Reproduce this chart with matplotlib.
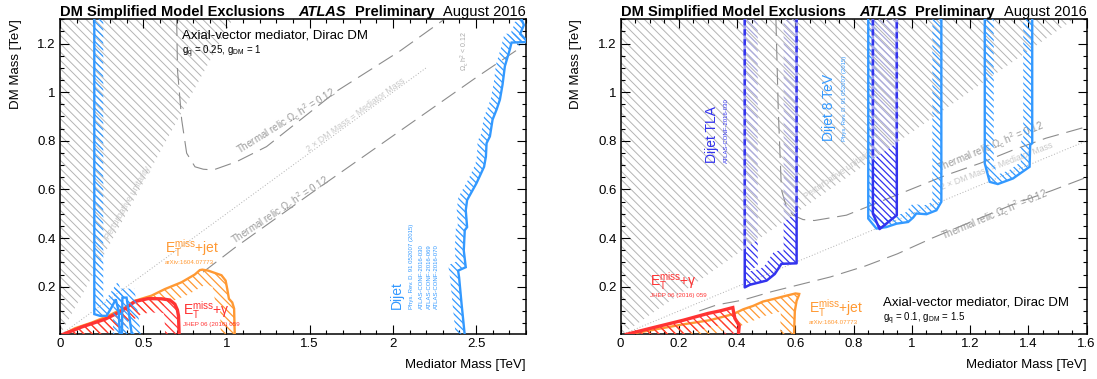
import numpy as np
import matplotlib.pyplot as plt
from matplotlib.patches import Polygon
from matplotlib.ticker import MultipleLocator, FuncFormatter

plt.rcParams['font.family'] = ['Liberation Sans', 'DejaVu Sans']
plt.rcParams['mathtext.fontset'] = 'custom'
plt.rcParams['mathtext.rm'] = 'Liberation Sans'
plt.rcParams['mathtext.it'] = 'Liberation Sans:italic'
plt.rcParams['mathtext.bf'] = 'Liberation Sans:bold'
plt.rcParams['hatch.linewidth'] = 0.8

# colours
C_DIJET = '#3399ff'
C_TLA = '#3333ee'
C_TLA_LIGHT = '#aaaadd'
C_JET = '#ff9933'
C_GAM = '#ff3333'
C_RELIC = '#8c8c8c'

# hatch patterns
H_GREY = '\\' * 4
H_BLUE = '\\' * 5
H_WARM = '\\' * 4

# ---- left: g_q = 0.25, g_DM = 1 ----
L_xmax = 2.8
L_unit_x = [0.0, 1.037]
L_unit_y = [0.0, 1.30]

L_relic_up_x = [0.701, 0.706, 0.731, 0.761, 0.811, 0.861, 0.921, 1.061, 1.241, 1.662, 2.042, 2.310]
L_relic_up_y = [1.300, 1.090, 0.887, 0.749, 0.693, 0.683, 0.680, 0.714, 0.776, 1.004, 1.169, 1.300]
L_relic_lo_x = [0.86, 1.05, 1.50, 2.00, 2.50, 2.76]
L_relic_lo_y = [0.26, 0.36, 0.58, 0.82, 1.06, 1.18]
L_diag_x = [0.0, 2.2]
L_diag_y = [0.0, 1.1]

L_dijet_a_x = [0.206, 0.206, 0.240, 0.280, 0.310, 0.335, 0.352, 0.360]
L_dijet_a_y = [1.300, 0.087, 0.080, 0.080, 0.115, 0.148, 0.100, 0.000]
L_dijet_b_x = [0.372, 0.375, 0.400, 0.412, 0.432]
L_dijet_b_y = [0.000, 0.155, 0.155, 0.100, 0.000]
L_dijet_c_x = [2.432, 2.413, 2.398, 2.392, 2.438, 2.426, 2.432, 2.446, 2.438, 2.446, 2.502,
               2.548, 2.559, 2.563, 2.583, 2.599, 2.623, 2.643, 2.659, 2.673, 2.703, 2.713, 2.800]
L_dijet_c_y = [0.000, 0.128, 0.238, 0.266, 0.280, 0.349, 0.432, 0.445, 0.514, 0.556, 0.625,
               0.693, 0.735, 0.790, 0.818, 0.887, 0.928, 0.969, 1.031, 1.107, 1.176, 1.204, 1.206]
L_dijet_d_x = [2.800, 2.765, 2.787, 2.773]
L_dijet_d_y = [1.214, 1.240, 1.276, 1.300]

L_jet_x = [1.050, 1.046, 1.035, 1.015, 1.005, 0.995, 0.970, 0.890, 0.855, 0.840, 0.810, 0.730,
           0.630, 0.550, 0.450, 0.390, 0.290, 0.190, 0.090, 0.020]
L_jet_y = [0.000, 0.110, 0.135, 0.150, 0.190, 0.225, 0.247, 0.266, 0.270, 0.268, 0.250, 0.218,
           0.190, 0.163, 0.142, 0.114, 0.080, 0.052, 0.029, 0.004]
L_gam_x = [0.716, 0.712, 0.705, 0.690, 0.660, 0.611, 0.530, 0.450, 0.371, 0.270, 0.130, 0.020]
L_gam_y = [0.000, 0.080, 0.105, 0.128, 0.145, 0.150, 0.151, 0.139, 0.100, 0.066, 0.034, 0.004]

# ---- right: g_q = 0.1, g_DM = 1.5 ----
R_xmax = 1.6
R_unit_x = [0.0, 1.556]
R_unit_y = [0.0, 1.30]

R_relic_up_x = [0.533, 0.541, 0.552, 0.569, 0.592, 0.626, 0.665, 0.775, 0.890, 1.004, 1.118,
                1.233, 1.347, 1.461, 1.600]
R_relic_up_y = [1.300, 0.928, 0.598, 0.528, 0.494, 0.476, 0.472, 0.494, 0.549, 0.604, 0.659,
                0.707, 0.762, 0.811, 0.858]
R_relic_lo_x = [0.27, 0.33, 0.42, 0.52, 0.62, 0.72, 0.84, 0.95, 1.07, 1.20, 1.35, 1.48, 1.60]
R_relic_lo_y = [0.10, 0.125, 0.145, 0.18, 0.21, 0.24, 0.285, 0.335, 0.40, 0.465, 0.54, 0.595, 0.65]
R_diag_x = [0.0, 1.6]
R_diag_y = [0.0, 0.8]

R_tla_a_x = [0.426, 0.426, 0.444, 0.501, 0.529, 0.552, 0.604, 0.604]
R_tla_a_y = [1.300, 0.197, 0.208, 0.225, 0.252, 0.294, 0.296, 1.300]
R_tla_b_x = [0.866, 0.866, 0.889, 0.948, 0.948]
R_tla_b_y = [1.300, 0.500, 0.437, 0.494, 1.300]
R_dijet_a_x = [0.850, 0.850, 0.878, 0.912, 0.947, 0.987, 1.004, 1.015, 1.050, 1.084, 1.101, 1.101]
R_dijet_a_y = [1.300, 0.480, 0.439, 0.445, 0.459, 0.466, 0.484, 0.501, 0.498, 0.514, 0.549, 1.300]
R_dijet_b_x = [1.250, 1.250, 1.267, 1.295, 1.347, 1.404, 1.406, 1.413, 1.413]
R_dijet_b_y = [1.300, 0.707, 0.631, 0.622, 0.645, 0.693, 0.783, 0.790, 1.300]

R_jet_x = [0.595, 0.598, 0.604, 0.612, 0.613, 0.600, 0.569, 0.524, 0.489, 0.455, 0.421, 0.386,
           0.306, 0.215, 0.100, 0.010]
R_jet_y = [0.000, 0.100, 0.142, 0.165, 0.170, 0.172, 0.163, 0.149, 0.139, 0.121, 0.107, 0.087,
           0.062, 0.045, 0.020, 0.000]
R_gam_x = [0.404, 0.407, 0.392, 0.387, 0.385, 0.340, 0.300, 0.215, 0.100, 0.020]
R_gam_y = [0.000, 0.040, 0.070, 0.100, 0.114, 0.100, 0.090, 0.062, 0.028, 0.004]

YMAX = 1.3

fig = plt.figure(figsize=(10.97, 3.79), dpi=100)
axL = fig.add_axes([0.0547, 0.1179, 0.4248, 0.8314])
axR = fig.add_axes([0.5658, 0.1179, 0.4248, 0.8314])


def setup(ax, xmax, xmaj, xmin):
    ax.set_xlim(0, xmax)
    ax.set_ylim(0.004, YMAX)
    ax.xaxis.set_major_locator(MultipleLocator(xmaj))
    ax.xaxis.set_minor_locator(MultipleLocator(xmin))
    ax.yaxis.set_major_locator(MultipleLocator(0.2))
    ax.yaxis.set_minor_locator(MultipleLocator(0.05))
    fmt = FuncFormatter(lambda v, p: f'{v:g}')
    ax.xaxis.set_major_formatter(fmt)
    ax.yaxis.set_major_formatter(fmt)
    ax.tick_params(which='both', direction='in', top=True, right=True, width=0.8,
                   labelsize=9.5, pad=3)
    ax.tick_params(which='major', length=6.5)
    ax.tick_params(which='minor', length=3.2)
    for s in ax.spines.values():
        s.set_linewidth(1.1)
    ax.set_xlabel('Mediator Mass [TeV]', fontsize=9.5, ha='right', va='center')
    ax.xaxis.set_label_coords(1.0, -0.0975)
    ax.set_ylabel('DM Mass [TeV]', fontsize=9.5, ha='right', va='center')
    ax.yaxis.set_label_coords(-0.0955, 1.0)
    kw = dict(transform=ax.transAxes, va='baseline', fontsize=10.5)
    ax.text(0.0, 1.009, 'DM Simplified Model Exclusions', fontweight='bold', ha='left', **kw)
    ax.text(0.512, 1.009, 'ATLAS', fontweight='bold', fontstyle='italic', ha='left', **kw)
    ax.text(0.632, 1.009, 'Preliminary', fontweight='bold', ha='left', **kw)
    ax.text(1.0, 1.009, 'August 2016', ha='right', **kw)


def set_hlw(p, hlw):
    if hasattr(p, 'set_hatch_linewidth'):
        p.set_hatch_linewidth(hlw)


def band(ax, xs, ys, w, color, hatch, hlw, z, clip=None):
    # hatched strip of w pixels on the left-hand side of the contour direction
    p = ax.transData.transform(np.column_stack([xs, ys]))
    d = np.diff(p, axis=0)
    ln = np.hypot(d[:, 0], d[:, 1])
    n = np.column_stack([-d[:, 1], d[:, 0]]) / ln[:, None]
    vn = np.zeros_like(p)
    vn[0], vn[-1] = n[0], n[-1]
    for i in range(1, len(p) - 1):
        m = n[i - 1] + n[i]
        m = m / np.hypot(*m)
        c = max(np.dot(m, n[i]), 0.5)
        vn[i] = m / c
    q = p + vn * w
    poly = ax.transData.inverted().transform(np.vstack([p, q[::-1]]))
    patch = Polygon(poly, closed=True, facecolor='none', edgecolor=color, lw=0,
                    hatch=hatch, zorder=z)
    set_hlw(patch, hlw)
    if clip is not None:
        patch.set_clip_path(clip)
    ax.add_patch(patch)


def contour(ax, xs, ys, color, lw, w, hatch, hlw, z):
    band(ax, xs, ys, w, color, hatch, hlw, z)
    ax.plot(xs, ys, color=color, lw=lw, zorder=z + 0.5, solid_joinstyle='miter')


def unitarity(ax, ux, uy):
    tri = Polygon([(ux[0], uy[0]), (ux[1], uy[1]), (0, uy[1])], closed=True,
                  facecolor='none', edgecolor='#b4b4b4', lw=0, hatch=H_GREY, zorder=1)
    set_hlw(tri, 0.7)
    ax.add_patch(tri)


def relic(ax, ux, uy, lx, ly, dx, dy):
    ax.plot(ux, uy, color=C_RELIC, lw=0.8, dashes=(15, 7), zorder=2)
    ax.plot(lx, ly, color=C_RELIC, lw=0.8, dashes=(15, 7), zorder=2)
    ax.plot(dx, dy, color='#b0b0b0', lw=0.7, linestyle=(0, (1, 2)), zorder=2)


def et_label(ax, x, y, txt, ref, color):
    ax.text(x, y, r'E$_{\mathrm{T}}^{\mathrm{miss}}$' + txt, color=color, fontsize=10,
            ha='left', va='baseline', zorder=10)
    ax.text(x, y - 0.04, ref, color=color, fontsize=4.5, ha='left', va='center', zorder=10)


# ---------------- left panel ----------------
setup(axL, L_xmax, 0.5, 0.1)
unitarity(axL, L_unit_x, L_unit_y)
relic(axL, L_relic_up_x, L_relic_up_y, L_relic_lo_x, L_relic_lo_y, L_diag_x, L_diag_y)

contour(axL, L_jet_x, L_jet_y, C_JET, 1.7, 14, H_WARM, 0.9, 4)
contour(axL, L_gam_x, L_gam_y, C_GAM, 2.4, 14, H_WARM, 0.9, 5)
for xs, ys in [(L_dijet_a_x, L_dijet_a_y), (L_dijet_b_x, L_dijet_b_y),
               (L_dijet_c_x, L_dijet_c_y), (L_dijet_d_x, L_dijet_d_y)]:
    contour(axL, xs, ys, C_DIJET, 1.7, 9, H_BLUE, 0.9, 6)

axL.text(0.731, 1.231, 'Axial-vector mediator, Dirac DM', fontsize=9.5, va='center', zorder=10)
axL.text(0.731, 1.165, r'g$_{\mathrm{q}}$ = 0.25, g$_{\mathrm{DM}}$ = 1', fontsize=7,
         va='center', zorder=10)
axL.text(1.361, 0.879, r'Thermal relic $\Omega_{\mathrm{c}}$ h$^{2}$ = 0.12', color='#9a9a9a',
         fontsize=7, rotation=31.8, ha='center', va='center', rotation_mode='anchor', zorder=3)
axL.text(1.777, 0.905, '2 × DM Mass = Mediator Mass', color='#c8c8c8', fontsize=6.3,
         rotation=36, ha='center', va='center', rotation_mode='anchor', zorder=3)
axL.text(1.325, 0.515, r'Thermal relic $\Omega_{\mathrm{c}}$ h$^{2}$ = 0.12', color='#9a9a9a',
         fontsize=7, rotation=33.2, ha='center', va='center', rotation_mode='anchor', zorder=3)
axL.text(2.43, 1.17, r'$\Omega_{\mathrm{c}}$ h$^{2}$ < 0.12', color='#a8a8a8', fontsize=5,
         rotation=90, ha='center', va='center', zorder=3)
axL.text(0.41, 0.545, 'Perturbative unitarity', color='#cacaca', fontsize=6.5, rotation=60,
         ha='center', va='center', rotation_mode='anchor', zorder=3)

et_label(axL, 0.631, 0.34, '+jet', 'arXiv:1604.07773', C_JET)
et_label(axL, 0.737, 0.085, '+γ', 'JHEP 06 (2016) 059', C_GAM)

axL.text(2.026, 0.108, 'Dijet', color=C_DIJET, fontsize=10, rotation=90, ha='center',
         va='bottom', zorder=10)
for xr, ref in zip([2.112, 2.172, 2.218, 2.262],
                   ['Phys. Rev. D. 91 052007 (2015)', 'ATLAS-CONF-2016-030',
                    'ATLAS-CONF-2016-069', 'ATLAS-CONF-2016-070']):
    axL.text(xr, 0.108, ref, color=C_DIJET, fontsize=4.3, rotation=90, ha='center',
             va='bottom', zorder=10)

# ---------------- right panel ----------------
setup(axR, R_xmax, 0.2, 0.05)
unitarity(axR, R_unit_x, R_unit_y)
relic(axR, R_relic_up_x, R_relic_up_y, R_relic_lo_x, R_relic_lo_y, R_diag_x, R_diag_y)

contour(axR, R_jet_x, R_jet_y, C_JET, 1.7, 14, H_WARM, 0.9, 4)
contour(axR, R_gam_x, R_gam_y, C_GAM, 2.4, 14, H_WARM, 0.9, 5)
for xs, ys in [(R_dijet_a_x, R_dijet_a_y), (R_dijet_b_x, R_dijet_b_y)]:
    contour(axR, xs, ys, C_DIJET, 1.7, 9, H_BLUE, 0.9, 6)

# TLA: solid with dark hatching below the unitarity line, dashed and pale above it
for xs, ys in [(R_tla_a_x, R_tla_a_y), (R_tla_b_x, R_tla_b_y)]:
    above = Polygon([(R_unit_x[0], R_unit_y[0]), (R_unit_x[1], R_unit_y[1]), (0, YMAX)],
                    closed=True, transform=axR.transData)
    below = Polygon([(R_unit_x[0], R_unit_y[0]), (R_xmax, 0), (R_xmax, YMAX),
                     (R_unit_x[1], R_unit_y[1])], closed=True, transform=axR.transData)
    band(axR, xs, ys, 13, C_TLA, H_BLUE, 0.9, 7, clip=below)
    band(axR, xs, ys, 13, C_TLA_LIGHT, H_BLUE, 0.9, 7, clip=above)
    l1, = axR.plot(xs, ys, color=C_TLA, lw=1.8, zorder=7.5)
    l1.set_clip_path(below)
    l2, = axR.plot(xs, ys, color='#9f9ff0', lw=1.8, zorder=7.5)
    l2.set_clip_path(above)
    l3, = axR.plot(xs, ys, color=C_TLA, lw=1.8, dashes=(2.5, 1.5), zorder=7.6)
    l3.set_clip_path(above)

axR.text(0.899, 0.133, 'Axial-vector mediator, Dirac DM', fontsize=9.5, va='center', zorder=10)
axR.text(0.899, 0.066, r'g$_{\mathrm{q}}$ = 0.1, g$_{\mathrm{DM}}$ = 1.5', fontsize=7,
         va='center', zorder=10)
axR.text(1.272, 0.775, r'Thermal relic $\Omega_{\mathrm{c}}$ h$^{2}$ = 0.12', color='#9a9a9a',
         fontsize=7, rotation=22.5, ha='center', va='center', rotation_mode='anchor', zorder=3)
axR.text(1.29, 0.697, '2 × DM Mass = Mediator Mass', color='#c8c8c8', fontsize=6.3,
         rotation=21, ha='center', va='center', rotation_mode='anchor', zorder=3)
axR.text(1.284, 0.497, r'Thermal relic $\Omega_{\mathrm{c}}$ h$^{2}$ = 0.12', color='#9a9a9a',
         fontsize=7, rotation=22.6, ha='center', va='center', rotation_mode='anchor', zorder=3)
axR.text(0.75, 0.665, 'Perturbative unitarity', color='#cacaca', fontsize=6.5, rotation=34,
         ha='center', va='center', rotation_mode='anchor', zorder=3)

et_label(axR, 0.10, 0.205, '+γ', 'JHEP 06 (2016) 059', C_GAM)
et_label(axR, 0.647, 0.094, '+jet', 'arXiv:1604.07773', C_JET)

axR.text(0.312, 0.707, 'Dijet TLA', color=C_TLA, fontsize=10, rotation=90, ha='center',
         va='bottom', zorder=10)
axR.text(0.364, 0.707, 'ATLAS-CONF-2016-030', color=C_TLA, fontsize=4.3, rotation=90,
         ha='center', va='bottom', zorder=10)
axR.text(0.716, 0.80, 'Dijet 8 TeV', color=C_DIJET, fontsize=10, rotation=90, ha='center',
         va='bottom', zorder=10)
axR.text(0.767, 0.80, 'Phys. Rev. D. 91 052007 (2015)', color=C_DIJET, fontsize=4.3,
         rotation=90, ha='center', va='bottom', zorder=10)

fig.savefig('out.png', dpi=100)
